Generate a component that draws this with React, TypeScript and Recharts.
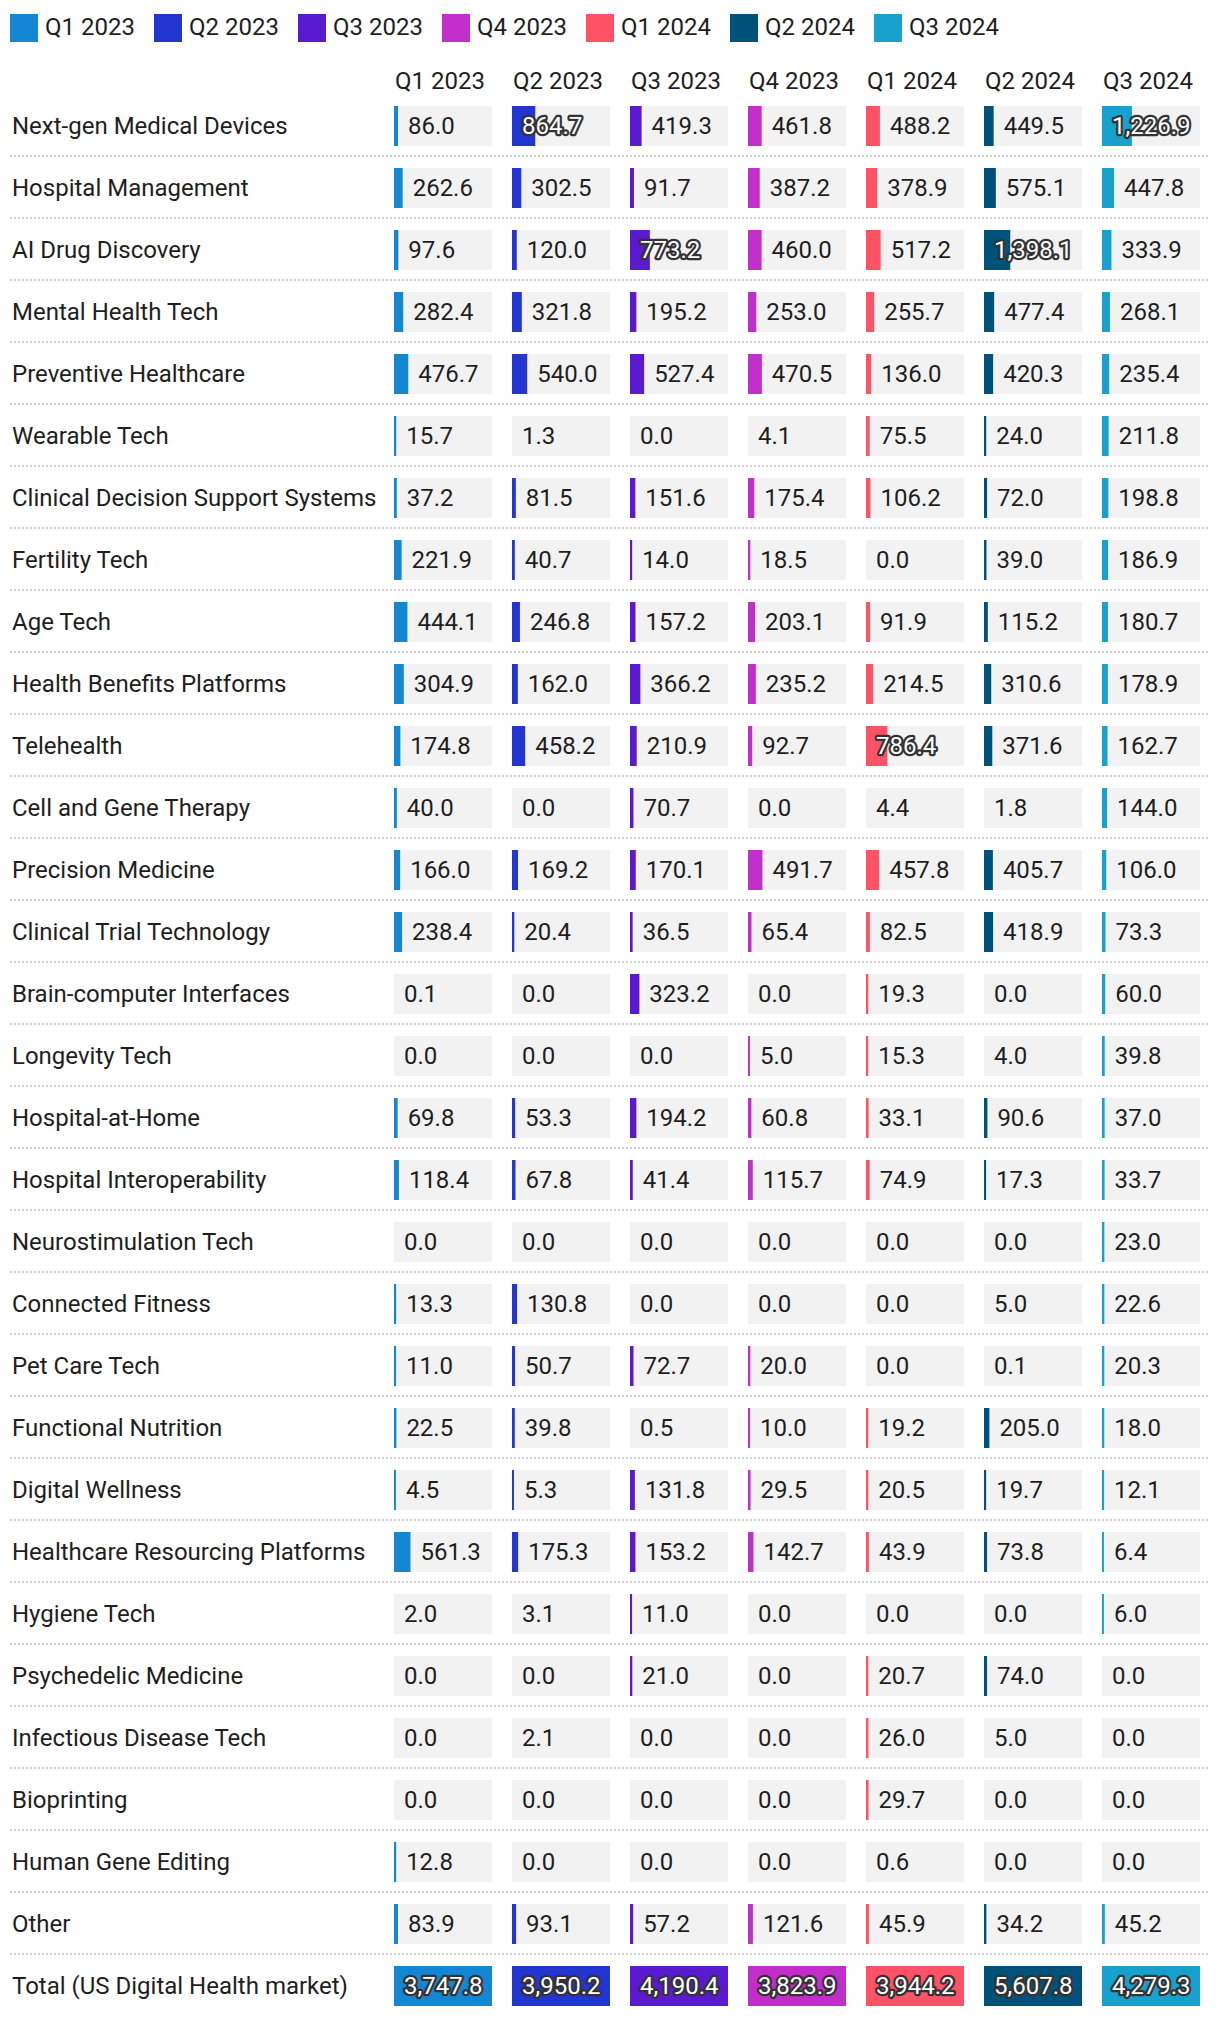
import React from "react";
import { BarChart, Bar, XAxis, YAxis, LabelList } from "recharts";

const CATEGORIES = [
  "Next-gen Medical Devices",
  "Hospital Management",
  "AI Drug Discovery",
  "Mental Health Tech",
  "Preventive Healthcare",
  "Wearable Tech",
  "Clinical Decision Support Systems",
  "Fertility Tech",
  "Age Tech",
  "Health Benefits Platforms",
  "Telehealth",
  "Cell and Gene Therapy",
  "Precision Medicine",
  "Clinical Trial Technology",
  "Brain-computer Interfaces",
  "Longevity Tech",
  "Hospital-at-Home",
  "Hospital Interoperability",
  "Neurostimulation Tech",
  "Connected Fitness",
  "Pet Care Tech",
  "Functional Nutrition",
  "Digital Wellness",
  "Healthcare Resourcing Platforms",
  "Hygiene Tech",
  "Psychedelic Medicine",
  "Infectious Disease Tech",
  "Bioprinting",
  "Human Gene Editing",
  "Other",
];
const TOTAL_LABEL = "Total (US Digital Health market)";

const QUARTERS = ["Q1 2023", "Q2 2023", "Q3 2023", "Q4 2023", "Q1 2024", "Q2 2024", "Q3 2024"];
const COLORS = ["#1387d4", "#2336d1", "#5a1ad0", "#c12ec9", "#fe5367", "#01527a", "#19a1ce"];

const Q1_2023 = [86.0, 262.6, 97.6, 282.4, 476.7, 15.7, 37.2, 221.9, 444.1, 304.9, 174.8, 40.0, 166.0, 238.4, 0.1, 0.0, 69.8, 118.4, 0.0, 13.3, 11.0, 22.5, 4.5, 561.3, 2.0, 0.0, 0.0, 0.0, 12.8, 83.9];
const Q2_2023 = [864.7, 302.5, 120.0, 321.8, 540.0, 1.3, 81.5, 40.7, 246.8, 162.0, 458.2, 0.0, 169.2, 20.4, 0.0, 0.0, 53.3, 67.8, 0.0, 130.8, 50.7, 39.8, 5.3, 175.3, 3.1, 0.0, 2.1, 0.0, 0.0, 93.1];
const Q3_2023 = [419.3, 91.7, 773.2, 195.2, 527.4, 0.0, 151.6, 14.0, 157.2, 366.2, 210.9, 70.7, 170.1, 36.5, 323.2, 0.0, 194.2, 41.4, 0.0, 0.0, 72.7, 0.5, 131.8, 153.2, 11.0, 21.0, 0.0, 0.0, 0.0, 57.2];
const Q4_2023 = [461.8, 387.2, 460.0, 253.0, 470.5, 4.1, 175.4, 18.5, 203.1, 235.2, 92.7, 0.0, 491.7, 65.4, 0.0, 5.0, 60.8, 115.7, 0.0, 0.0, 20.0, 10.0, 29.5, 142.7, 0.0, 0.0, 0.0, 0.0, 0.0, 121.6];
const Q1_2024 = [488.2, 378.9, 517.2, 255.7, 136.0, 75.5, 106.2, 0.0, 91.9, 214.5, 786.4, 4.4, 457.8, 82.5, 19.3, 15.3, 33.1, 74.9, 0.0, 0.0, 0.0, 19.2, 20.5, 43.9, 0.0, 20.7, 26.0, 29.7, 0.6, 45.9];
const Q2_2024 = [449.5, 575.1, 1398.1, 477.4, 420.3, 24.0, 72.0, 39.0, 115.2, 310.6, 371.6, 1.8, 405.7, 418.9, 0.0, 4.0, 90.6, 17.3, 0.0, 5.0, 0.1, 205.0, 19.7, 73.8, 0.0, 74.0, 5.0, 0.0, 0.0, 34.2];
const Q3_2024 = [1226.9, 447.8, 333.9, 268.1, 235.4, 211.8, 198.8, 186.9, 180.7, 178.9, 162.7, 144.0, 106.0, 73.3, 60.0, 39.8, 37.0, 33.7, 23.0, 22.6, 20.3, 18.0, 12.1, 6.4, 6.0, 0.0, 0.0, 0.0, 0.0, 45.2];
const TOTALS = [3747.8, 3950.2, 4190.4, 3823.9, 3944.2, 5607.8, 4279.3];

const SERIES = [Q1_2023, Q2_2023, Q3_2023, Q4_2023, Q1_2024, Q2_2024, Q3_2024];

const FONT = "Roboto, 'Noto Sans', sans-serif";
const FS = 24;
const TEXT = "#1e1e1e";
const CELL_W = 98;
const COL_X0 = 394;
const COL_STEP = 118;
const ROW_H = 62;
const TABLE_TOP = 95;
const BAR_H = 40;

const fmt = (v: number) =>
  v.toLocaleString("en-US", { minimumFractionDigits: 1, maximumFractionDigits: 1 });

const drawnWidth = (w: number) => (w > 0.115 ? Math.min(w + 1.8, CELL_W) : 0);

const BarShape = (p: any) => {
  const dw = drawnWidth(p.width);
  if (!dw) return null;
  return <rect x={p.x} y={p.y} width={dw} height={p.height} fill={p.fill} />;
};

const ValueLabel = (props: any) => {
  const vb = props.viewBox || props;
  const x = Number(vb.x ?? props.x);
  const y = Number(vb.y ?? props.y);
  const w = Number(vb.width ?? props.width) || 0;
  const h = Number(vb.height ?? props.height) || BAR_H;
  const value = Number(props.value);
  const inside = w / CELL_W > 0.16;
  const tx = inside ? x + 10 : x + drawnWidth(w) + 10;
  const ty = y + h / 2;
  if (inside) {
    return (
      <text
        x={tx}
        y={ty}
        dominantBaseline="central"
        fontFamily={FONT}
        fontSize={FS}
        fill="#ffffff"
        stroke="#333333"
        strokeWidth={4.5}
        strokeLinejoin="round"
        paintOrder="stroke"
      >
        {fmt(value)}
      </text>
    );
  }
  return (
    <text x={tx} y={ty} dominantBaseline="central" fontFamily={FONT} fontSize={FS} fill={TEXT}>
      {fmt(value)}
    </text>
  );
};

const ColumnChart = ({ idx }: { idx: number }) => {
  const data = CATEGORIES.map((name, i) => ({ name, v: SERIES[idx][i] }));
  data.push({ name: TOTAL_LABEL, v: TOTALS[idx] });
  return (
    <BarChart
      width={CELL_W}
      height={ROW_H * data.length}
      data={data}
      layout="vertical"
      margin={{ top: 0, right: 0, bottom: 0, left: 0 }}
      barCategoryGap={0}
    >
      <XAxis type="number" hide domain={[0, TOTALS[idx]]} allowDataOverflow />
      <YAxis type="category" dataKey="name" hide width={0} />
      <Bar
        dataKey="v"
        fill={COLORS[idx]}
        barSize={BAR_H}
        background={{ fill: "#f2f2f2" }}
        shape={BarShape}
        isAnimationActive={false}
      >
        <LabelList dataKey="v" content={ValueLabel} />
      </Bar>
    </BarChart>
  );
};

export default function App() {
  const rowLabels = [...CATEGORIES, TOTAL_LABEL];
  return (
    <div
      style={{
        position: "absolute",
        left: 0,
        top: 0,
        width: 1220,
        height: 2018,
        background: "#fff",
        fontFamily: FONT,
        fontSize: FS,
        color: TEXT,
        overflow: "hidden",
      }}
    >
      {/* legend */}
      {QUARTERS.map((q, i) => (
        <div key={q} style={{ position: "absolute", left: 10 + i * 144, top: 14, height: 28, display: "flex" }}>
          <div style={{ width: 28, height: 28, background: COLORS[i] }} />
          <div style={{ marginLeft: 7, lineHeight: "26px", whiteSpace: "nowrap" }}>{q}</div>
        </div>
      ))}
      {/* column headers */}
      {QUARTERS.map((q, i) => (
        <div
          key={"h" + q}
          style={{ position: "absolute", left: COL_X0 + 1 + i * COL_STEP, top: 67, lineHeight: "28px", whiteSpace: "nowrap" }}
        >
          {q}
        </div>
      ))}
      {/* row labels */}
      {rowLabels.map((r, i) => (
        <div
          key={"r" + i}
          style={{
            position: "absolute",
            left: 12,
            top: TABLE_TOP + 31 - 14 + i * ROW_H,
            lineHeight: "28px",
            whiteSpace: "nowrap",
          }}
        >
          {r}
        </div>
      ))}
      {/* dividers */}
      <svg width={1220} height={2018} style={{ position: "absolute", left: 0, top: 0 }}>
        {CATEGORIES.map((_, i) => (
          <line
            key={"d" + i}
            x1={10}
            x2={1208}
            y1={TABLE_TOP + 61 + i * ROW_H}
            y2={TABLE_TOP + 61 + i * ROW_H}
            stroke="#cfcfcf"
            strokeWidth={2}
            strokeDasharray="2 2"
          />
        ))}
      </svg>
      {/* bar columns */}
      {QUARTERS.map((q, i) => (
        <div key={"c" + q} style={{ position: "absolute", left: COL_X0 + i * COL_STEP, top: TABLE_TOP }}>
          <ColumnChart idx={i} />
        </div>
      ))}
    </div>
  );
}
